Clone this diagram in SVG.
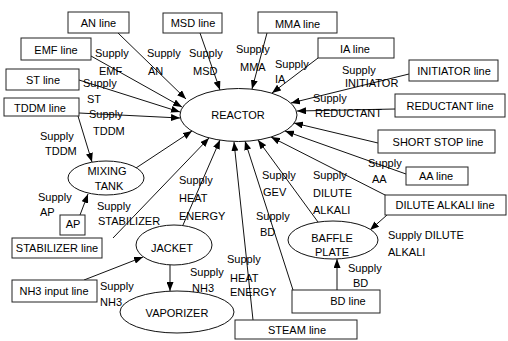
<svg xmlns="http://www.w3.org/2000/svg" width="508" height="341" viewBox="0 0 508 341">
<defs>
<marker id="ah" markerUnits="userSpaceOnUse" markerWidth="9" markerHeight="7" refX="9" refY="3.5" orient="auto">
<path d="M0,0 L9,3.5 L0,7 z" fill="#000"/>
</marker>
<style>
text{font-family:"Liberation Sans",Arial,sans-serif;font-size:11px;fill:#000}
.c{text-anchor:middle}
.box{fill:#fff;stroke:#222;stroke-width:1}
.ell{fill:#fff;stroke:#111;stroke-width:1}
.ln{stroke:#111;stroke-width:1;fill:none;marker-end:url(#ah)}
</style>
</defs>
<rect width="508" height="341" fill="#fff"/>

<g id="connectors">
<line class="ln" x1="118" y1="33" x2="186" y2="99"/>
<line class="ln" x1="91" y1="56" x2="182" y2="107"/>
<line class="ln" x1="79" y1="80" x2="180" y2="112"/>
<line class="ln" x1="79" y1="113" x2="180" y2="118"/>
<line class="ln" x1="200" y1="33" x2="220" y2="90"/>
<line class="ln" x1="267" y1="33" x2="252" y2="89"/>
<line class="ln" x1="318" y1="58" x2="272" y2="93"/>
<line class="ln" x1="409" y1="74" x2="291" y2="103"/>
<line class="ln" x1="395" y1="109" x2="297" y2="111"/>
<line class="ln" x1="378" y1="143" x2="294" y2="123"/>
<line class="ln" x1="406" y1="174" x2="285" y2="131"/>
<line class="ln" x1="387" y1="196" x2="271" y2="137"/>
<line class="ln" x1="318" y1="222" x2="258" y2="140"/>
<line class="ln" x1="293" y1="290" x2="245" y2="141"/>
<line class="ln" x1="253" y1="320" x2="234" y2="142"/>
<line class="ln" x1="183" y1="225" x2="220" y2="140"/>
<line class="ln" x1="113" y1="238" x2="209" y2="138"/>
<line class="ln" x1="136" y1="168" x2="192" y2="131"/>
<line class="ln" x1="78" y1="116" x2="92" y2="162"/>
<line class="ln" x1="80" y1="215" x2="88" y2="194"/>
<line class="ln" x1="84" y1="280" x2="143" y2="257"/>
<line class="ln" x1="170" y1="265" x2="170" y2="291"/>
<line class="ln" x1="387" y1="215" x2="370" y2="230"/>
<line class="ln" x1="337" y1="290" x2="337" y2="259"/>
</g>

<g id="reactor"><ellipse class="ell" cx="238.5" cy="115" rx="58.5" ry="26.5"/><text class="c" x="238" y="119">REACTOR</text></g>
<g id="mixing-tank"><ellipse class="ell" cx="106" cy="178" rx="38" ry="17"/><text class="c" x="107" y="175">MIXING</text><text class="c" x="109" y="190">TANK</text></g>
<g id="jacket"><ellipse class="ell" cx="174" cy="245" rx="38" ry="20"/><text class="c" x="172" y="252">JACKET</text></g>
<g id="vaporizer"><ellipse class="ell" cx="177" cy="312" rx="57" ry="21"/><text class="c" x="177" y="317">VAPORIZER</text></g>
<g id="baffle-plate"><ellipse class="ell" cx="333" cy="240" rx="45" ry="19"/><text class="c" x="332" y="242">BAFFLE</text><text class="c" x="332" y="256">PLATE</text></g>

<g id="an-line"><rect class="box" x="68" y="12" width="61" height="21"/><text class="c" x="98.5" y="27">AN line</text></g>
<g id="msd-line"><rect class="box" x="163" y="13" width="59" height="20"/><text class="c" x="193" y="27">MSD line</text></g>
<g id="mma-line"><rect class="box" x="258" y="12" width="79" height="21"/><text class="c" x="297.5" y="28">MMA line</text></g>
<g id="ia-line"><rect class="box" x="318" y="38" width="76" height="20"/><text class="c" x="355" y="53">IA line</text></g>
<g id="initiator-line"><rect class="box" x="409" y="60" width="89" height="21"/><text class="c" x="454" y="75">INITIATOR line</text></g>
<g id="reductant-line"><rect class="box" x="395" y="94" width="110" height="23"/><text class="c" x="450" y="110">REDUCTANT line</text></g>
<g id="short-stop-line"><rect class="box" x="378" y="130" width="117" height="23"/><text class="c" x="438" y="146">SHORT STOP line</text></g>
<g id="aa-line"><rect class="box" x="406" y="167" width="62" height="18"/><text class="c" x="436" y="180">AA line</text></g>
<g id="dilute-alkali-line"><rect class="box" x="385" y="195" width="121" height="20"/><text class="c" x="445" y="209">DILUTE ALKALI line</text></g>
<g id="bd-line"><rect class="box" x="292" y="290" width="88" height="23"/><text class="c" x="348" y="305">BD line</text></g>
<g id="steam-line"><rect class="box" x="235" y="320" width="122" height="19"/><text class="c" x="297" y="334">STEAM line</text></g>
<g id="emf-line"><rect class="box" x="21" y="38" width="70" height="22"/><text class="c" x="56" y="54">EMF line</text></g>
<g id="st-line"><rect class="box" x="6" y="69" width="73" height="21"/><text class="c" x="43" y="84">ST line</text></g>
<g id="tddm-line"><rect class="box" x="4" y="98" width="75" height="18"/><text class="c" x="40" y="112">TDDM line</text></g>
<g id="ap"><rect class="box" x="60" y="215" width="25" height="20"/><text class="c" x="73" y="228">AP</text></g>
<g id="stabilizer-line"><rect class="box" x="12" y="238" width="90" height="20"/><text class="c" x="57" y="252">STABILIZER line</text></g>
<g id="nh3-input-line"><rect class="box" x="12" y="280" width="85" height="22"/><text class="c" x="54" y="295">NH3 input line</text></g>

<g id="labels">
<text x="95" y="57">Supply</text><text x="99" y="75">EMF</text>
<text x="147" y="57">Supply</text><text x="148" y="75">AN</text>
<text x="189" y="57">Supply</text><text x="193" y="75">MSD</text>
<text x="236" y="53">Supply</text><text x="240" y="71">MMA</text>
<text x="275" y="68">Supply</text><text x="275" y="83">IA</text>
<text x="342" y="74">Supply</text><text x="345" y="87">INITIATOR</text>
<text x="313" y="102">Supply</text><text x="315" y="117">REDUCTANT</text>
<text x="83" y="87">Supply</text><text x="87" y="103">ST</text>
<text x="89" y="118">Supply</text><text x="93" y="135">TDDM</text>
<text x="40" y="140">Supply</text><text x="45" y="155">TDDM</text>
<text x="38" y="201">Supply</text><text x="40" y="216">AP</text>
<text x="97" y="210">Supply</text><text x="98" y="225">STABILIZER</text>
<text x="179" y="184">Supply</text><text x="179" y="202">HEAT</text><text x="179" y="220">ENERGY</text>
<text x="262" y="179">Supply</text><text x="263" y="196">GEV</text>
<text x="256" y="220">Supply</text><text x="260" y="236">BD</text>
<text x="313" y="179">Supply</text><text x="313" y="197">DILUTE</text><text x="313" y="214">ALKALI</text>
<text x="368" y="167">Supply</text><text x="372" y="183">AA</text>
<text x="100" y="290">Supply</text><text x="100" y="306">NH3</text>
<text x="190" y="276">Supply</text><text x="192" y="292">NH3</text>
<text x="227" y="263">Supply</text><text x="230" y="282">HEAT</text><text x="230" y="296">ENERGY</text>
<text x="388" y="239">Supply DILUTE</text><text x="388" y="256">ALKALI</text>
<text x="348" y="272">Supply</text><text x="353" y="287">BD</text>
</g>
</svg>
